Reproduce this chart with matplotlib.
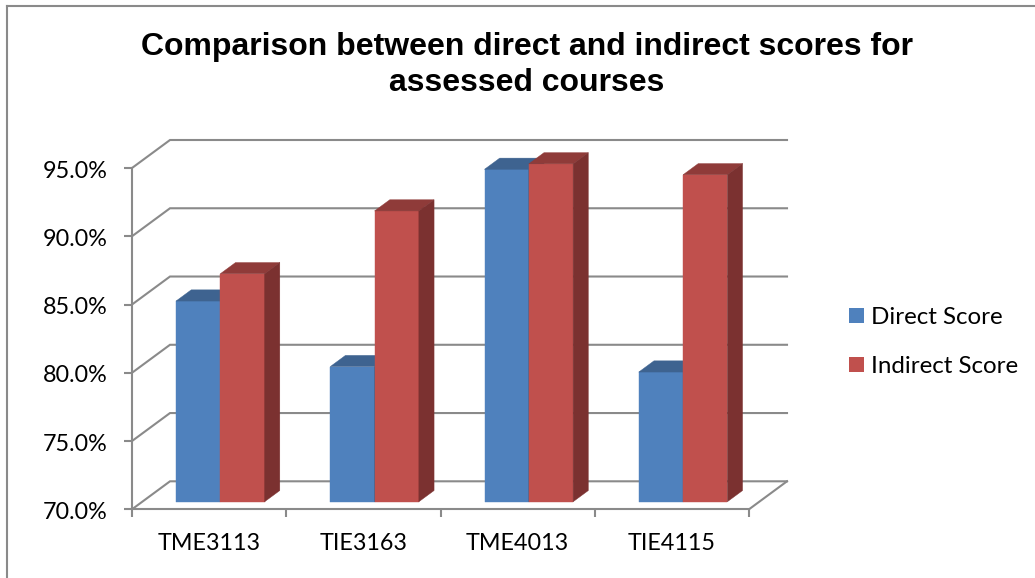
import matplotlib
matplotlib.use("Agg")
import matplotlib.pyplot as plt
from matplotlib.lines import Line2D
from matplotlib.patches import Patch, Polygon
from matplotlib.transforms import ScaledTranslation

categories = ["TME3113", "TIE3163", "TME4013", "TIE4115"]
direct_score = [84.7, 79.9, 94.35, 79.5]
indirect_score = [86.7, 91.3, 94.75, 93.95]
value_ticks = [70, 75, 80, 85, 90, 95]
series_names = ["Direct Score", "Indirect Score"]

W, H = 1035, 578
LABEL_FONT = ["Lato", "DejaVu Sans"]
TITLE_FONT = ["Liberation Sans", "DejaVu Sans"]
GRID = "#8A8A8A"
BLUE = ("#4F81BD", "#3E6390", "#3A5D88")
RED = ("#C0504D", "#8F3B39", "#7B3130")

fig = plt.figure(figsize=(W / 100, H / 100), dpi=100, facecolor="white")
x0, x1, y70, y95 = 132, 749, 509.3, 168
ax = fig.add_axes([x0 / W, 1 - y70 / H, (x1 - x0) / W, (y70 - y95) / H])
ax.set_xlim(-0.5, 3.5)
ax.set_ylim(70, 95)
ax.patch.set_alpha(0)

# oblique depth: full depth moves a point this far in data units
DX = 38 / ((x1 - x0) / 4)
DY = 28 / ((y70 - y95) / 25)


def proj(x, v, d):
    return (x + d * DX, v + d * DY)


for v in value_ticks:
    xs, ys = zip(proj(-0.5, v, 0), proj(-0.5, v, 1), proj(3.5, v, 1))
    ax.plot(xs, ys, color=GRID, lw=1.5, clip_on=False, zorder=1, solid_joinstyle="miter")
xs, ys = zip(proj(3.5, 70, 0), proj(3.5, 70, 1))
ax.plot(xs, ys, color=GRID, lw=1.5, clip_on=False, zorder=1)

BAR_W = 44.3 / ((x1 - x0) / 4)
BAR_SHIFT = 0.006
D_FRONT, D_BACK = 0.27, 0.27 + 0.40


def draw_bar(left, value, colors, z):
    right = left + BAR_W
    front = [proj(left, 70, D_FRONT), proj(right, 70, D_FRONT),
             proj(right, value, D_FRONT), proj(left, value, D_FRONT)]
    top = [proj(left, value, D_FRONT), proj(right, value, D_FRONT),
           proj(right, value, D_BACK), proj(left, value, D_BACK)]
    side = [proj(right, 70, D_FRONT), proj(right, 70, D_BACK),
            proj(right, value, D_BACK), proj(right, value, D_FRONT)]
    for pts, c in zip((front, top, side), colors):
        ax.add_patch(Polygon(pts, closed=True, fc=c, ec=c, lw=0.3, clip_on=False, zorder=z))


for i in range(len(categories)):
    draw_bar(i - BAR_W + BAR_SHIFT, direct_score[i], BLUE, 2 + i * 2)
    draw_bar(i + BAR_SHIFT, indirect_score[i], RED, 3 + i * 2)

for s in ("top", "right"):
    ax.spines[s].set_visible(False)
for s in ("left", "bottom"):
    ax.spines[s].set_color(GRID)
    ax.spines[s].set_linewidth(1.5)
    ax.spines[s].set_zorder(1)

ax.set_yticks(value_ticks)
ax.set_yticklabels([f"{v:.1f}%" for v in value_ticks], family=LABEL_FONT, fontsize=16.8, color="black")
ax.set_xticks(range(len(categories)))
ax.set_xticklabels(categories, family=LABEL_FONT, fontsize=16.8, color="black")
ax.set_xticks([-0.5, 0.5, 1.5, 2.5, 3.5], minor=True)
ax.tick_params(axis="x", which="major", length=0, pad=17)
ax.tick_params(axis="x", which="minor", length=6, width=1.5, color=GRID)
ax.tick_params(axis="y", length=6, width=1.5, color=GRID, pad=11.5)
for lab in ax.get_yticklabels():
    lab.set_transform(lab.get_transform() + ScaledTranslation(0, -0.8 / 72, fig.dpi_scale_trans))

fig.text(527 / W, 1 - 65 / H,
         "Comparison between direct and indirect scores for\nassessed courses",
         ha="center", va="center", family=TITLE_FONT, fontweight="bold",
         fontsize=23.05, linespacing=1.25, color="black")

handles = [Patch(fc=BLUE[0], ec="none"), Patch(fc=RED[0], ec="none")]
fig.legend(handles, series_names, loc="center left",
           bbox_to_anchor=(849 / W, 1 - 342 / H), frameon=False,
           prop={"family": LABEL_FONT, "size": 17.4},
           handlelength=0.62, handleheight=0.6, handletextpad=0.3,
           labelspacing=1.15, borderpad=0, borderaxespad=0)

fig.add_artist(Line2D([7 / W, 7 / W], [0, 1 - 6 / H], color=GRID, lw=1.5))
fig.add_artist(Line2D([7 / W, 1], [1 - 6 / H, 1 - 6 / H], color=GRID, lw=1.5))

fig.savefig("out.png", dpi=100, facecolor="white")
